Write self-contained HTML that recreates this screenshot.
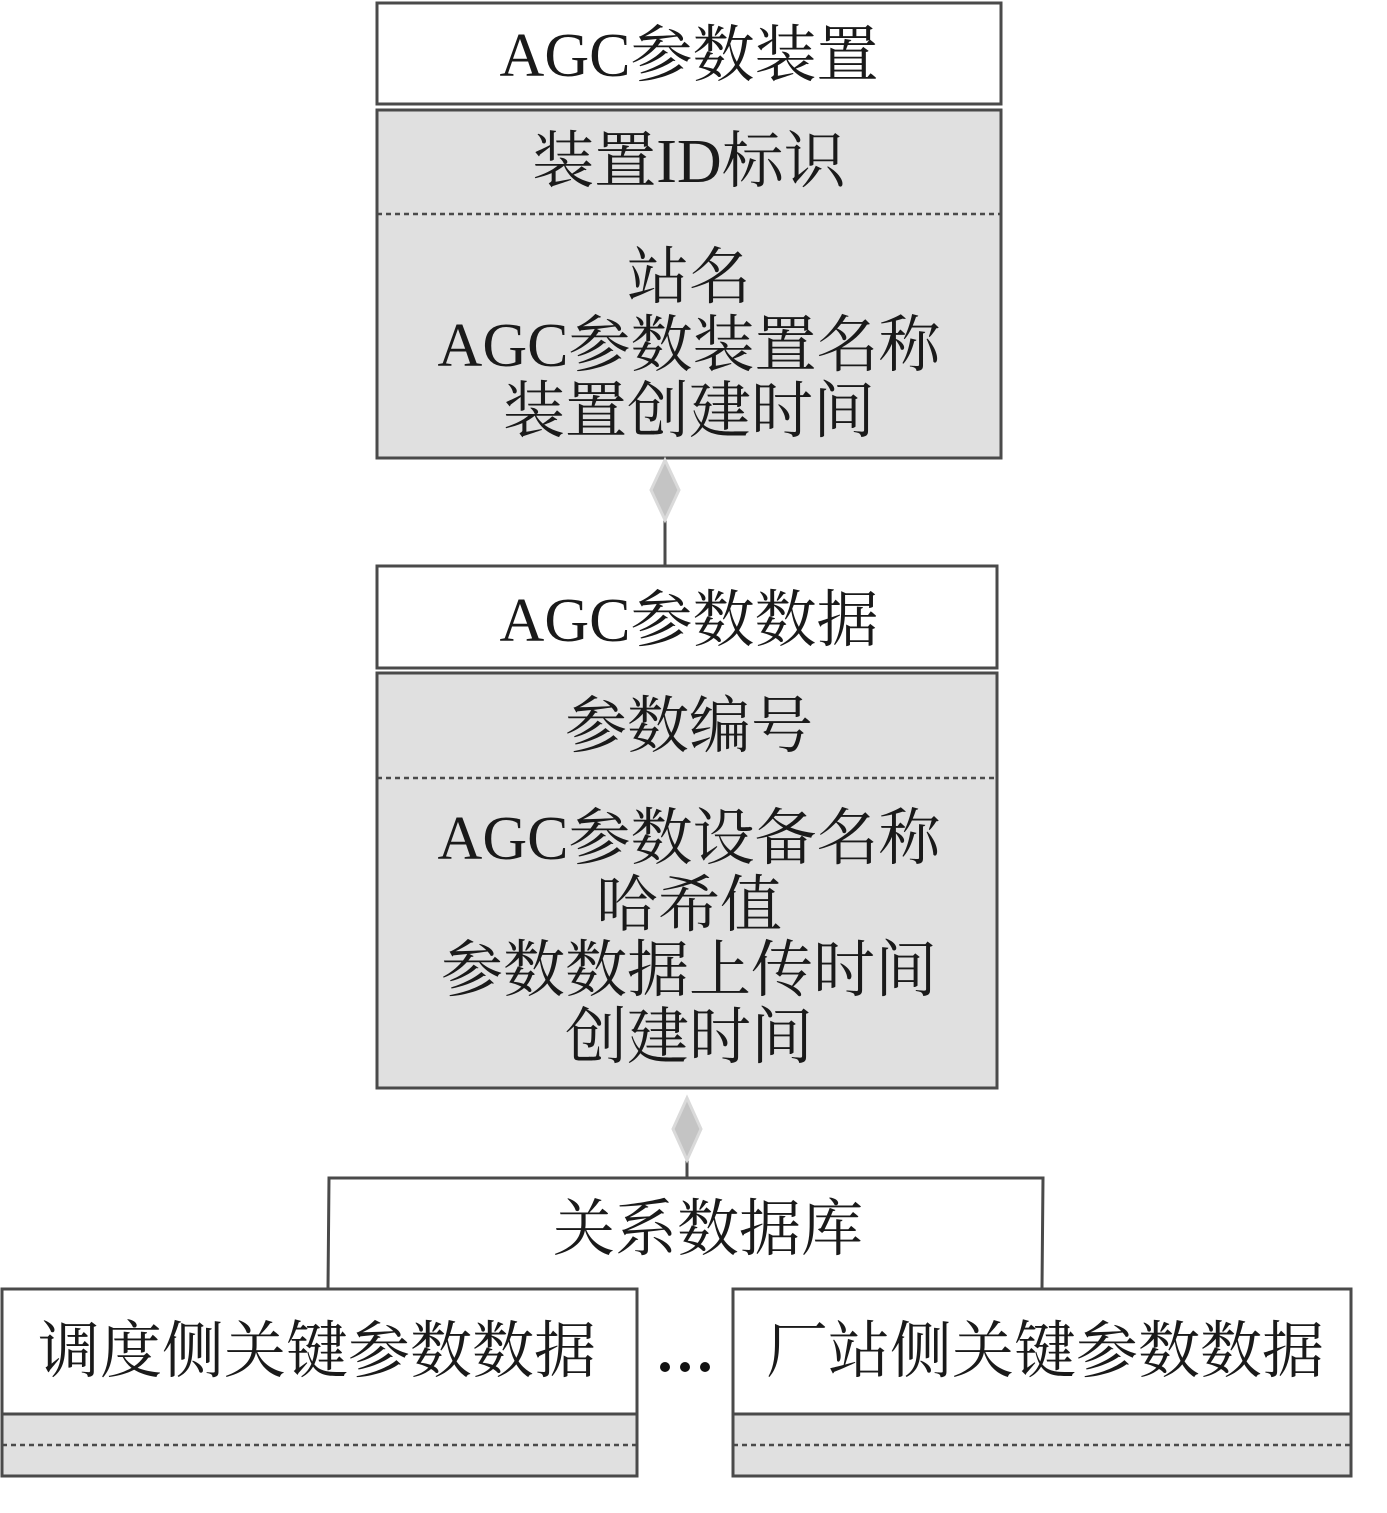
<!DOCTYPE html>
<html><head><meta charset="utf-8"><style>
html,body{margin:0;padding:0;background:#fff;}
svg{display:block;}
text{font-family:"Liberation Serif","Noto Serif CJK SC",serif;font-size:62px;fill:#1a1a1a;text-anchor:middle;}
</style></head><body>
<svg width="1387" height="1513" viewBox="0 0 1387 1513" xmlns="http://www.w3.org/2000/svg">
<g stroke="#4a4a4a" stroke-width="3">
<!-- box1 -->
<rect x="377" y="3" width="624" height="101" fill="#fff"/>
<rect x="377" y="110" width="624" height="348" fill="#e0e0e0"/>
<line x1="377" y1="214" x2="1001" y2="214" stroke-dasharray="5,4" stroke-width="2.5"/>
<!-- connector 1 -->
<line x1="665" y1="520" x2="665" y2="566"/>
<!-- box2 -->
<rect x="377" y="566" width="620" height="102" fill="#fff"/>
<rect x="377" y="673" width="620" height="415" fill="#e0e0e0"/>
<line x1="377" y1="778" x2="997" y2="778" stroke-dasharray="5,4" stroke-width="2.5"/>
<!-- connector 2 -->
<line x1="687" y1="1160" x2="687" y2="1178"/>
<polyline points="328,1288 329,1178 1043,1178 1042,1288" fill="none"/>
<!-- bottom boxes -->
<rect x="2" y="1289" width="635" height="125" fill="#fff"/>
<rect x="2" y="1414" width="635" height="62" fill="#e0e0e0"/>
<line x1="2" y1="1445" x2="637" y2="1445" stroke-dasharray="5,4" stroke-width="2.5"/>
<rect x="733" y="1289" width="618" height="125" fill="#fff"/>
<rect x="733" y="1414" width="618" height="62" fill="#e0e0e0"/>
<line x1="733" y1="1445" x2="1351" y2="1445" stroke-dasharray="5,4" stroke-width="2.5"/>
</g>
<polygon points="665,460 679,490 665,520 651,490" fill="#c4c4c4" stroke="#dadada" stroke-width="3"/>
<polygon points="687,1098 701,1129 687,1160 673,1129" fill="#c4c4c4" stroke="#dadada" stroke-width="3"/>
<text x="689" y="76">AGC参数装置</text>
<text x="689" y="182">装置ID标识</text>
<text x="689" y="298">站名</text>
<text x="689" y="366">AGC参数装置名称</text>
<text x="689" y="432">装置创建时间</text>
<text x="689" y="641">AGC参数数据</text>
<text x="689" y="747">参数编号</text>
<text x="689" y="859">AGC参数设备名称</text>
<text x="689" y="926">哈希值</text>
<text x="689" y="991">参数数据上传时间</text>
<text x="689" y="1058">创建时间</text>
<text x="708" y="1250">关系数据库</text>
<text x="317" y="1372">调度侧关键参数数据</text>
<text x="1045" y="1372">厂站侧关键参数数据</text>
<g fill="#111"><circle cx="665" cy="1367" r="5"/><circle cx="685" cy="1367" r="5"/><circle cx="705" cy="1367" r="5"/></g>
</svg>
</body></html>
